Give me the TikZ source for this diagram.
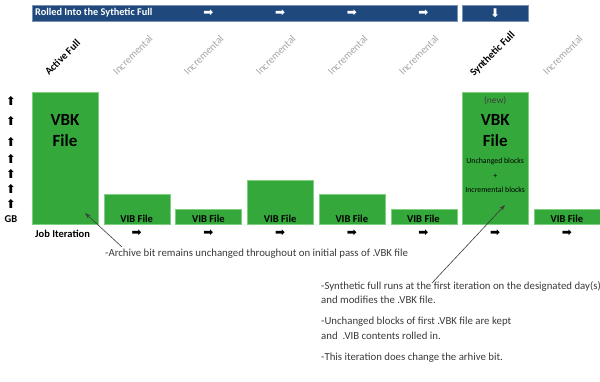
\documentclass[tikz,border=0pt]{standalone}
\usepackage{fontspec}
\setmainfont{Carlito}
\newfontfamily\symfont{DejaVu Sans}
\usepackage{tikz}
\usetikzlibrary{arrows.meta}

\definecolor{barblue}{HTML}{1F497D}
\definecolor{bargreen}{HTML}{34A83B}
\definecolor{edgegreen}{HTML}{7ED07E}
\definecolor{incgray}{HTML}{A6A6A6}
\definecolor{notegray}{HTML}{3A3A3A}

\tikzset{
  headbar/.style={fill=barblue, draw=barblue!60!white, line width=0.5pt, inner sep=0pt, anchor=north west},
  filebar/.style={fill=bargreen, draw=edgegreen, line width=0.8pt, inner sep=0pt, anchor=south west, minimum width=66pt},
  steplabel/.style={rotate=45, anchor=base west, font=\fontsize{10.5}{11}\selectfont, text=incgray, inner sep=0pt},
  fulllabel/.style={steplabel, text=black, font=\bfseries\fontsize{10.5}{11}\selectfont},
  viblabel/.style={font=\bfseries\fontsize{10.5}{11}\selectfont, inner sep=0pt},
  arrowglyph/.style={font=\symfont\fontsize{12}{12}\selectfont, inner sep=0pt},
  note/.style={font=\fontsize{10.8}{14.5}\selectfont, text=notegray, inner sep=0pt, align=left},
  pointer/.style={-{Stealth[length=6pt,width=4pt,open]}, draw=notegray, line width=0.6pt}
}

\begin{document}
\begin{tikzpicture}[x=1pt, y=-1pt]
    \useasboundingbox (0,0) rectangle (600,381);

    % Define nodes
    \node[headbar, minimum width=425pt, minimum height=16pt] (roll) at (32,5) {};
    \node[headbar, minimum width=66pt, minimum height=16pt] (synhead) at (462,5) {};
    \node[anchor=west, text=white, font=\bfseries\fontsize{10.3}{11}\selectfont, inner sep=0pt] (rolltext) at (35,13) {Rolled Into the Sythetic Full};
    \node[arrowglyph, text=white] (ra1) at (208.4,13) {➡};
    \node[arrowglyph, text=white] (ra2) at (280.1,13) {➡};
    \node[arrowglyph, text=white] (ra3) at (351.8,13) {➡};
    \node[arrowglyph, text=white] (ra4) at (423.5,13) {➡};
    \node[arrowglyph, text=white] (rdown) at (495.2,13) {⬇};

    \node[fulllabel] (l0) at (49,76) {Active Full};
    \node[steplabel] (l1) at (117,76) {Incremental};
    \node[steplabel] (l2) at (188,76) {Incremental};
    \node[steplabel] (l3) at (260,76) {Incremental};
    \node[steplabel] (l4) at (332,76) {Incremental};
    \node[steplabel] (l5) at (403,76) {Incremental};
    \node[fulllabel] (l6) at (474,77) {Synthetic Full};
    \node[steplabel] (l7) at (547,76) {Incremental};

    \node[filebar, minimum height=132pt] (vbk) at (32,225) {};
    \node[filebar, minimum height=30pt] (vib1) at (103.7,225) {};
    \node[filebar, minimum height=15pt] (vib2) at (175.4,225) {};
    \node[filebar, minimum height=44pt] (vib3) at (247.1,225) {};
    \node[filebar, minimum height=30pt] (vib4) at (318.8,225) {};
    \node[filebar, minimum height=15pt] (vib5) at (390.5,225) {};
    \node[filebar, minimum height=132pt] (syn) at (462.2,225) {};
    \node[filebar, minimum height=15pt] (vib6) at (533.9,225) {};

    \node[font=\bfseries\fontsize{17}{21}\selectfont, align=center, inner sep=0pt] (vbktext) at (65,131) {VBK\\File};
    \node[font=\fontsize{9.5}{10}\selectfont, text=black!75, inner sep=0pt] (newtext) at (495.2,101) {(new)};
    \node[font=\bfseries\fontsize{17}{21}\selectfont, align=center, inner sep=0pt] (syntext) at (495.2,131) {VBK\\File};
    \node[font=\fontsize{7.8}{14.5}\selectfont, align=center, inner sep=0pt] (blocks) at (495.2,175.5) {Unchanged blocks\\+\\Incremental blocks};

    \node[viblabel] (v1) at (136.7,219) {VIB File};
    \node[viblabel] (v2) at (208.4,219) {VIB File};
    \node[viblabel] (v3) at (280.1,219) {VIB File};
    \node[viblabel] (v4) at (351.8,219) {VIB File};
    \node[viblabel] (v5) at (423.5,219) {VIB File};
    \node[viblabel] (v6) at (566.9,219) {VIB File};

    \node[arrowglyph] (g1) at (11,101) {⬆};
    \node[arrowglyph] (g2) at (11,121) {⬆};
    \node[arrowglyph] (g3) at (11,142) {⬆};
    \node[arrowglyph] (g4) at (11,159) {⬆};
    \node[arrowglyph] (g5) at (11,174) {⬆};
    \node[arrowglyph] (g6) at (11,189) {⬆};
    \node[arrowglyph] (g7) at (11,204) {⬆};
    \node[viblabel] (gb) at (11,219) {GB};

    \node[viblabel, anchor=west] (job) at (35,233.5) {Job Iteration};
    \node[arrowglyph] (j1) at (136.7,233.5) {➡};
    \node[arrowglyph] (j2) at (208.4,233.5) {➡};
    \node[arrowglyph] (j3) at (280.1,233.5) {➡};
    \node[arrowglyph] (j4) at (351.8,233.5) {➡};
    \node[arrowglyph] (j5) at (423.5,233.5) {➡};
    \node[arrowglyph] (j6) at (495.2,233.5) {➡};
    \node[arrowglyph] (j7) at (566.9,233.5) {➡};

    \node[note, anchor=west] (note1) at (105,254) {-Archive bit remains unchanged throughout on initial pass of .VBK file};
    \node[note, anchor=north west] (note2) at (321,281) {-Synthetic full runs at the first iteration on the designated day(s)\\and modifies the .VBK file.\\[6.5pt]-Unchanged blocks of first .VBK file are kept\\and \ .VIB contents rolled in.\\[6.5pt]-This iteration does change the arhive bit.};

    \coordinate (tail1) at (122,247);
    \coordinate (tip1) at (85,213);
    \coordinate (tail2) at (432,283);
    \coordinate (tip2) at (505,205);

    % Draw arrows
    \draw[pointer] (tail1) -- (tip1);
    \draw[pointer] (tail2) -- (tip2);
\end{tikzpicture}
\end{document}
